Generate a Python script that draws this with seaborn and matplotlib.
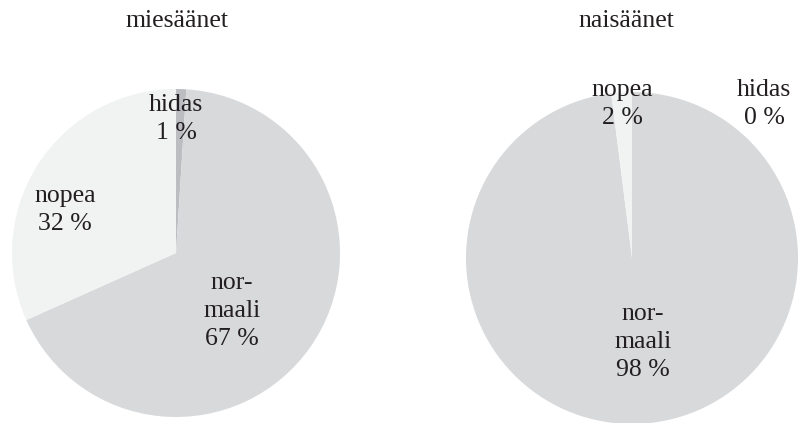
import matplotlib
matplotlib.use("Agg")
import matplotlib.pyplot as plt
import seaborn as sns

sns.set_theme(style="white")
plt.rcParams['font.family'] = ['Liberation Serif', 'DejaVu Serif']

categories = ["hidas", "normaali", "nopea"]
label_texts = ["hidas", "nor-\nmaali", "nopea"]
titles = ["miesäänet", "naisäänet"]
men_values = [1.0, 67.3, 31.7]
women_values = [0.0, 98.0, 2.0]
pct_labels_men = [1, 67, 32]
pct_labels_women = [0, 98, 2]

colors = ["#bcbdc1", "#d8d9db", "#f1f2f2"]
text_color = "#231f20"

W, H = 799, 423
fig = plt.figure(figsize=(W / 100, H / 100), dpi=100)
ax = fig.add_axes([0, 0, 1, 1])
ax.set_xlim(0, W)
ax.set_ylim(0, H)
ax.set_axis_off()

FS = 18.5

# pie layout in pixel coordinates (x, y from top), radius
pies = [
    dict(vals=men_values, pcts=pct_labels_men, title=titles[0], cx=176, cy=253, r=164,
         title_x=177, label_pos=[(176, 119), (232, 311), (65, 210)]),
    dict(vals=women_values, pcts=pct_labels_women, title=titles[1], cx=632, cy=258, r=166,
         title_x=626, label_pos=[(764, 104), (643, 342), (622, 104)]),
]

for p in pies:
    ax.pie(p["vals"], colors=colors, startangle=90, counterclock=False,
           radius=p["r"], center=(p["cx"], H - p["cy"]),
           wedgeprops=dict(linewidth=0), frame=True)
    ax.text(p["title_x"], H - 21, p["title"], ha="center", va="center",
            fontsize=FS, color=text_color)
    for lbl, pct, (lx, ly) in zip(label_texts, p["pcts"], p["label_pos"]):
        ax.text(lx, H - ly, f"{lbl}\n{pct} %", ha="center", va="center",
                fontsize=FS, color=text_color, linespacing=1.38)

ax.set_xlim(0, W)
ax.set_ylim(0, H)
ax.set_aspect("equal")
ax.set_axis_off()
fig.savefig("out.png", dpi=100)
